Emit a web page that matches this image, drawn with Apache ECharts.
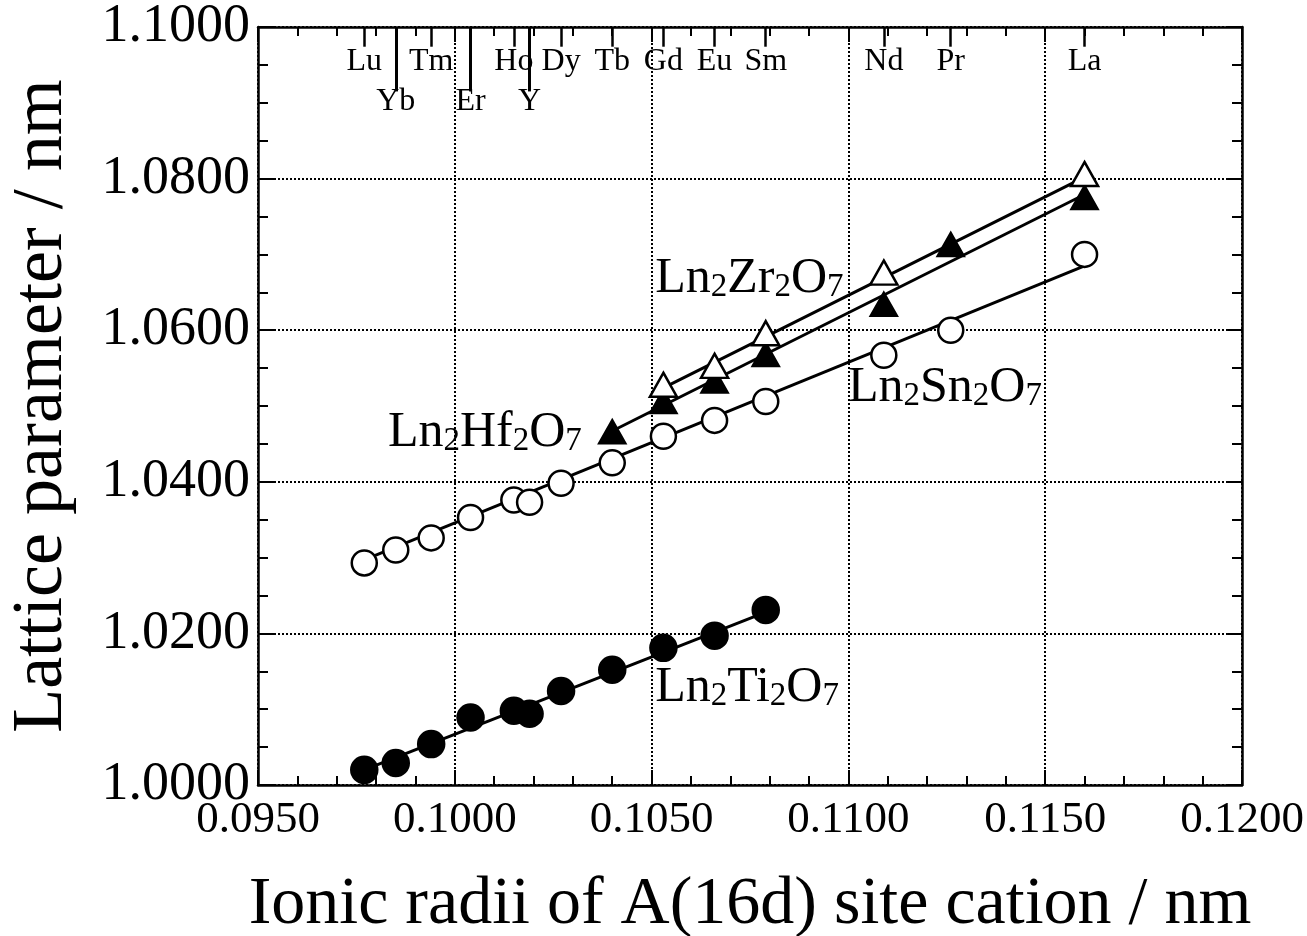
<!DOCTYPE html>
<html>
<head>
<meta charset="utf-8">
<script src="https://cdn.jsdelivr.net/npm/echarts@6/dist/echarts.min.js"></script>
<style>
html, body { margin: 0; background: #fff; }
#chart { width: 1307px; height: 936px; }
</style>
</head>
<body>
<div id="chart"></div>
<script>
// ionic radii (nm) of the Ln cations, top labels
var elements = ['Lu', 'Yb', 'Tm', 'Er', 'Ho', 'Y', 'Dy', 'Tb', 'Gd', 'Eu', 'Sm', 'Nd', 'Pr', 'La'];
var radii = [0.0977, 0.0985, 0.0994, 0.1004, 0.1015, 0.1019, 0.1027, 0.1040, 0.1053, 0.1066, 0.1079, 0.1109, 0.1126, 0.1160];
var lowerRow = ['Yb', 'Er', 'Y'];

// lattice parameters (nm)
var snElements = ['Lu', 'Yb', 'Tm', 'Er', 'Ho', 'Y', 'Dy', 'Tb', 'Gd', 'Eu', 'Sm', 'Nd', 'Pr', 'La'];
var snValues = [1.0293, 1.0310, 1.0326, 1.0353, 1.0376, 1.0373, 1.0398, 1.0425, 1.0460, 1.0481, 1.0506, 1.0567, 1.0600, 1.0700];
var tiElements = ['Lu', 'Yb', 'Tm', 'Er', 'Ho', 'Y', 'Dy', 'Tb', 'Gd', 'Eu', 'Sm'];
var tiValues = [1.0020, 1.0029, 1.0054, 1.0089, 1.0098, 1.0094, 1.0124, 1.0152, 1.0181, 1.0197, 1.0231];
var hfElements = ['Tb', 'Gd', 'Eu', 'Sm', 'Nd', 'Pr', 'La'];
var hfValues = [1.0466, 1.0506, 1.0533, 1.0568, 1.0634, 1.0713, 1.0775];
var zrElements = ['Gd', 'Eu', 'Sm', 'Nd', 'La'];
var zrValues = [1.0528, 1.0553, 1.0596, 1.0676, 1.0806];

// straight fit lines (end points)
var snFit = [[0.0977, 1.0297], [0.1160, 1.0685]];
var tiFit = [[0.0977, 1.0020], [0.1079, 1.0228]];
var hfFit = [[0.1040, 1.0467], [0.1160, 1.0779]];
var zrFit = [[0.1053, 1.0524], [0.1160, 1.0802]];

var FONT = 'Liberation Serif';

function radiusOf(name) {
    return radii[elements.indexOf(name)];
}
function toPoints(names, values) {
    var list = [];
    for (var i = 0; i < names.length; i++) {
        list.push([radiusOf(names[i]), values[i]]);
    }
    return list;
}

// element marks hanging from the top axis
var elementLines = [];
var elementLabels = [];
for (var i = 0; i < elements.length; i++) {
    var low = lowerRow.indexOf(elements[i]) >= 0;
    elementLines.push([
        { coord: [radii[i], 1.1], lineStyle: { width: low ? 3 : 2.5 } },
        { coord: [radii[i], low ? 1.0915 : 1.0974] }
    ]);
    elementLabels.push({ value: [radii[i], low ? 1.0901 : 1.0955], name: elements[i] });
}

function lineSeries(data) {
    return {
        type: 'line', data: data, symbol: 'none', silent: true, z: 2,
        lineStyle: { color: '#000', width: 3 }
    };
}
function markerSeries(data, symbol, size, fill) {
    return {
        type: 'scatter', data: data, symbol: symbol, symbolSize: size, z: 3,
        itemStyle: { color: fill, borderColor: '#000', borderWidth: 2.5, opacity: 1 }
    };
}
function compoundLabel(pos, metal) {
    return {
        type: 'scatter', data: [pos], symbolSize: 0, silent: true, z: 4,
        itemStyle: { opacity: 1 },
        label: {
            show: true, position: 'right', distance: 0, color: '#000', opacity: 1,
            formatter: '{a|Ln}{s|2}{a|' + metal + '}{s|2}{a|O}{s|7}',
            rich: {
                a: { fontFamily: FONT, fontSize: 50, color: '#000', verticalAlign: 'bottom', lineHeight: 50 },
                s: { fontFamily: FONT, fontSize: 33, color: '#000', verticalAlign: 'bottom', lineHeight: 50 }
            }
        }
    };
}

var chart = echarts.init(document.getElementById('chart'));

var option = {
    backgroundColor: '#fff',
    animation: false,
    grid: { left: 258, right: 65, top: 27, bottom: 151, outerBoundsMode: 'none', containLabel: false },
    xAxis: [{
        type: 'value', min: 0.095, max: 0.12, interval: 0.005,
        name: 'Ionic radii of A(16d) site cation / nm',
        nameLocation: 'middle', nameGap: 86,
        nameTextStyle: { fontFamily: FONT, fontSize: 68, color: '#000' },
        axisLine: { lineStyle: { color: '#000', width: 2.5 } },
        axisTick: { inside: true, length: 15, lineStyle: { color: '#000', width: 2 } },
        minorTick: { show: true, splitNumber: 5, length: 9, lineStyle: { color: '#000', width: 2 } },
        axisLabel: {
            fontFamily: FONT, fontSize: 45, color: '#000', margin: 13,
            formatter: function (v) { return v.toFixed(4); }
        },
        splitLine: { show: true, lineStyle: { color: '#000', type: 'dotted', width: 2 } }
    }, {
        type: 'value', position: 'top', min: 0.095, max: 0.12, interval: 0.005,
        axisLine: { lineStyle: { color: '#000', width: 2.5 } },
        axisTick: { inside: true, length: 15, lineStyle: { color: '#000', width: 2 } },
        minorTick: { show: true, splitNumber: 5, length: 9, lineStyle: { color: '#000', width: 2 } },
        axisLabel: { show: false },
        splitLine: { show: false }
    }],
    yAxis: [{
        type: 'value', min: 1.0, max: 1.1, interval: 0.02,
        name: 'Lattice parameter / nm',
        nameLocation: 'middle', nameGap: 180,
        nameTextStyle: { fontFamily: FONT, fontSize: 72, color: '#000' },
        axisLine: { lineStyle: { color: '#000', width: 2.5 } },
        axisTick: { inside: true, length: 16, lineStyle: { color: '#000', width: 2 } },
        minorTick: { show: true, splitNumber: 4, length: 10, lineStyle: { color: '#000', width: 2 } },
        axisLabel: {
            fontFamily: FONT, fontSize: 54, color: '#000', margin: 8,
            formatter: function (v) { return v.toFixed(4); }
        },
        splitLine: { show: true, lineStyle: { color: '#000', type: 'dotted', width: 2 } }
    }, {
        type: 'value', position: 'right', min: 1.0, max: 1.1, interval: 0.02,
        axisLine: { lineStyle: { color: '#000', width: 2.5 } },
        axisTick: { inside: true, length: 16, lineStyle: { color: '#000', width: 2 } },
        minorTick: { show: true, splitNumber: 4, length: 10, lineStyle: { color: '#000', width: 2 } },
        axisLabel: { show: false },
        splitLine: { show: false }
    }],
    series: [
        {
            type: 'line', data: snFit, symbol: 'none', silent: true, z: 2,
            lineStyle: { color: '#000', width: 3 },
            markLine: {
                silent: true, symbol: 'none', animation: false,
                label: { show: false },
                lineStyle: { color: '#000', width: 2.5, type: 'solid' },
                data: elementLines
            }
        },
        lineSeries(tiFit),
        lineSeries(hfFit),
        lineSeries(zrFit),
        markerSeries(toPoints(snElements, snValues), 'circle', 25, '#fff'),
        markerSeries(toPoints(tiElements, tiValues), 'circle', 26, '#000'),
        markerSeries(toPoints(hfElements, hfValues), 'triangle', [26, 23], '#000'),
        markerSeries(toPoints(zrElements, zrValues), 'triangle', [27, 24], '#fff'),
        {
            type: 'scatter', data: elementLabels, symbolSize: 0, silent: true, z: 4,
            itemStyle: { opacity: 1 },
            label: {
                show: true, position: 'inside', opacity: 1,
                formatter: function (p) { return p.name; },
                fontFamily: FONT, fontSize: 32, color: '#000'
            }
        },
        compoundLabel([0.10509, 1.0668], 'Zr'),
        compoundLabel([0.10999, 1.0524], 'Sn'),
        compoundLabel([0.09830, 1.0464], 'Hf'),
        compoundLabel([0.10509, 1.0128], 'Ti')
    ]
};

chart.setOption(option);
</script>
</body>
</html>
